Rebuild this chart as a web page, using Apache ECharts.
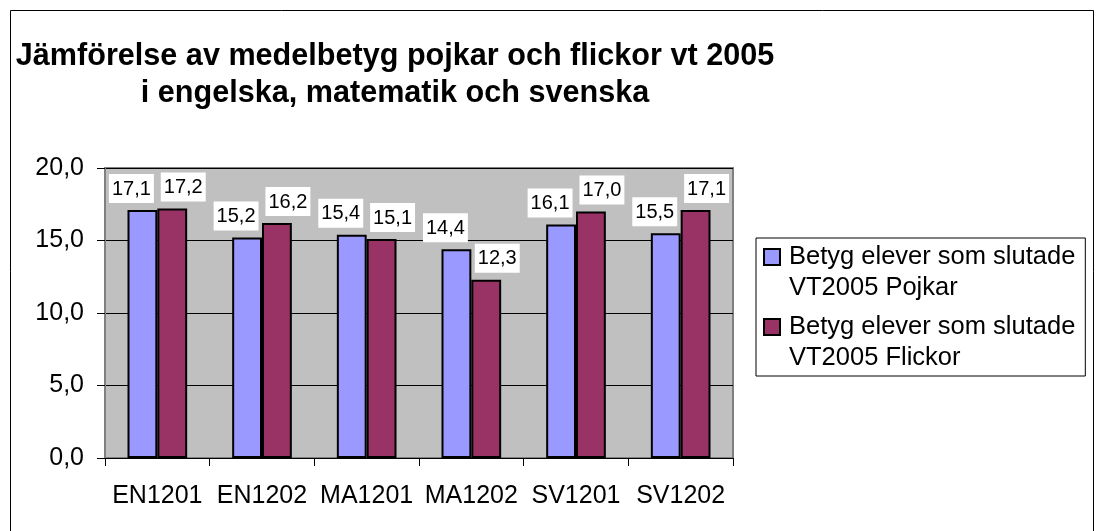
<!DOCTYPE html>
<html>
<head>
<meta charset="utf-8">
<script src="https://cdn.jsdelivr.net/npm/echarts@6/dist/echarts.min.js"></script>
<style>
  html, body { margin: 0; padding: 0; background: #ffffff; }
  #chart { width: 1101px; height: 531px; }
</style>
</head>
<body>
<div id="chart"></div>
<script>
const categories = ['EN1201', 'EN1202', 'MA1201', 'MA1202', 'SV1201', 'SV1202'];
const pojkar = [17.1, 15.2, 15.4, 14.4, 16.1, 15.5];
const flickor = [17.2, 16.2, 15.1, 12.3, 17.0, 17.1];
const seriesNames = ['Betyg elever som slutade\nVT2005 Pojkar', 'Betyg elever som slutade\nVT2005 Flickor'];
const titleLines = ['Jämförelse av medelbetyg pojkar och flickor vt 2005', 'i engelska, matematik och svenska'];
const yTicks = { min: 0, max: 20, interval: 5 };

const FONT = 'Liberation Sans, Arial, sans-serif';
const fmt = v => Number(v).toFixed(1).replace('.', ',');

const chart = echarts.init(document.getElementById('chart'), null, { renderer: 'canvas' });

const labelCommon = {
  show: true,
  position: 'top',
  distance: 7,
  fontFamily: FONT,
  fontSize: 20,
  color: '#000',
  backgroundColor: '#ffffff',
  padding: [5, 3, 4, 3],
  formatter: p => fmt(p.value)
};

const legendIcon = 'path://M0,0h16v16h-16z M0,46';

chart.setOption({
  animation: false,
  backgroundColor: '#ffffff',
  graphic: [
    {
      type: 'rect',
      shape: { x: 10.5, y: 10.5, width: 1083, height: 530 },
      style: { fill: null, stroke: '#000', lineWidth: 1 },
      silent: true
    }
  ],
  title: {
    text: titleLines.join('\n'),
    left: 395,
    top: 38,
    textAlign: 'center',
    padding: 0,
    textStyle: {
      fontFamily: FONT,
      fontSize: 30.6,
      fontWeight: 'bold',
      color: '#000',
      lineHeight: 37
    }
  },
  legend: {
    orient: 'vertical',
    left: 756,
    top: 238,
    padding: [3, 10, 3, 7],
    itemGap: 8,
    itemWidth: 16,
    itemHeight: 46,
    icon: legendIcon,
    backgroundColor: '#ffffff',
    borderColor: '#000',
    borderWidth: 1,
    borderRadius: 0,
    textStyle: {
      fontFamily: FONT,
      fontSize: 25.5,
      color: '#000',
      lineHeight: 31,
      padding: [0, 0, 0, 4]
    },
    data: seriesNames
  },
  grid: {
    left: 105,
    right: 368,
    top: 168,
    bottom: 73,
    show: true,
    backgroundColor: '#C0C0C0',
    borderColor: '#808080',
    borderWidth: 2,
    containLabel: false
  },
  xAxis: {
    type: 'category',
    data: categories,
    axisLine: { show: true, lineStyle: { color: '#000', width: 1 } },
    axisTick: { show: true, length: 8, inside: false, alignWithLabel: false, lineStyle: { color: '#000' } },
    axisLabel: {
      fontFamily: FONT,
      fontSize: 25,
      color: '#000',
      margin: 26,
      interval: 0
    },
    splitLine: { show: false }
  },
  yAxis: {
    type: 'value',
    min: yTicks.min,
    max: yTicks.max,
    interval: yTicks.interval,
    axisLine: { show: true, lineStyle: { color: '#808080', width: 2 } },
    axisTick: { show: true, length: 8, lineStyle: { color: '#000' } },
    axisLabel: {
      fontFamily: FONT,
      fontSize: 25,
      color: '#000',
      margin: 21,
      formatter: v => fmt(v)
    },
    splitLine: { show: true, lineStyle: { color: '#000', width: 1 } }
  },
  series: [
    {
      name: seriesNames[0],
      type: 'bar',
      data: pojkar,
      barGap: '0%',
      barCategoryGap: '43%',
      itemStyle: { color: '#9999FF', borderColor: '#000', borderWidth: 2 },
      label: Object.assign({}, labelCommon, { offset: [-11, 0] })
    },
    {
      name: seriesNames[1],
      type: 'bar',
      data: flickor,
      barGap: '0%',
      barCategoryGap: '43%',
      itemStyle: { color: '#993366', borderColor: '#000', borderWidth: 2 },
      label: Object.assign({}, labelCommon, { offset: [11, 0] })
    }
  ]
});
</script>
</body>
</html>
